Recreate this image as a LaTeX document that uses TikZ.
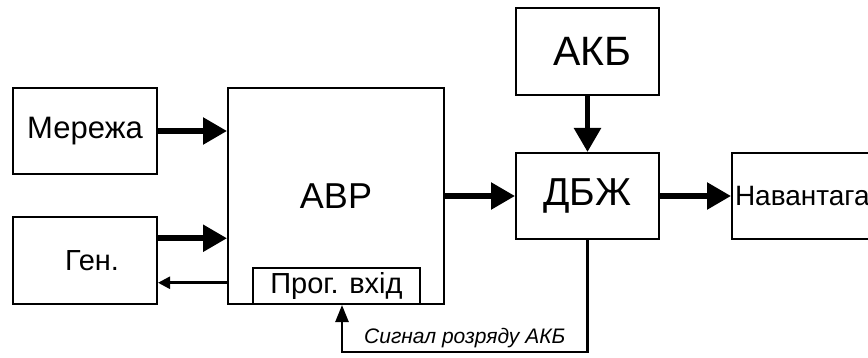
\documentclass[tikz,border=0pt]{standalone}
\usepackage{fontspec}
\setmainfont{Liberation Sans}
\usetikzlibrary{arrows.meta}
\usetikzlibrary{calc}

\begin{document}
\begin{tikzpicture}[x=1pt,y=-1pt,
	box/.style={draw, line width=2pt, inner sep=0pt},
	bigarrow/.style={line width=5.5pt, -{Triangle[length=24pt,width=26pt]}},
	thinarrow/.style={line width=2.5pt, -{Triangle[length=12pt,width=12pt]}}
]
\useasboundingbox (0,0) rectangle (868,358);
%\draw[help lines] (0,0) grid[step=50] (868,358);
\node[box, minimum width=144pt, minimum height=86pt, font=\fontsize{31}{34}\selectfont] (merezha) at (85,131) {Мережа};
\node[box, minimum width=144pt, minimum height=87pt, font=\fontsize{29}{32}\selectfont] (gen) at (85,260.5) {\hspace{14pt}Ген.};
\node[box, minimum width=216pt, minimum height=216pt, font=\fontsize{36}{40}\selectfont] (avr) at (336,196) {АВР};
\node[box, minimum width=167pt, minimum height=36pt, font=\fontsize{29}{30}\selectfont] (prog) at (336.5,286) {Прог. вхід};
\node[box, minimum width=143pt, minimum height=87pt, font=\fontsize{41}{44}\selectfont] (akb) at (587.5,51.5) {\hspace{10pt}АКБ};
\node[box, minimum width=143pt, minimum height=86pt, font=\fontsize{39}{42}\selectfont] (dbzh) at (587.5,196) {ДБЖ};
\node[box, anchor=west, text width=160pt, align=left, inner xsep=3pt, minimum height=86pt, font=\fontsize{28}{30}\selectfont] (load) at (731,196) {Навантага};

\coordinate (genin) at ($(gen.north east)!0.25!(gen.south east)$);
\coordinate (genout) at ($(gen.north east)!0.75!(gen.south east)$);
\coordinate (sig) at (342,352);

\draw[bigarrow] (merezha) -- (avr.west |- merezha);
\draw[bigarrow] (genin) -- (genin -| avr.west);
\draw[thinarrow] (genout -| avr.west) -- (genout);
\draw[bigarrow] (avr) -- (dbzh);
\draw[bigarrow] (akb) -- (dbzh);
\draw[bigarrow] (dbzh) -- (load);
\draw[thinarrow, -{Triangle[length=17pt,width=13pt]}] (dbzh.south) |- node[pos=0.75, above, font=\fontsize{21}{23}\selectfont\itshape]{Сигнал розряду АКБ} (sig) -- (sig |- prog.south);
\end{tikzpicture}
\end{document}
